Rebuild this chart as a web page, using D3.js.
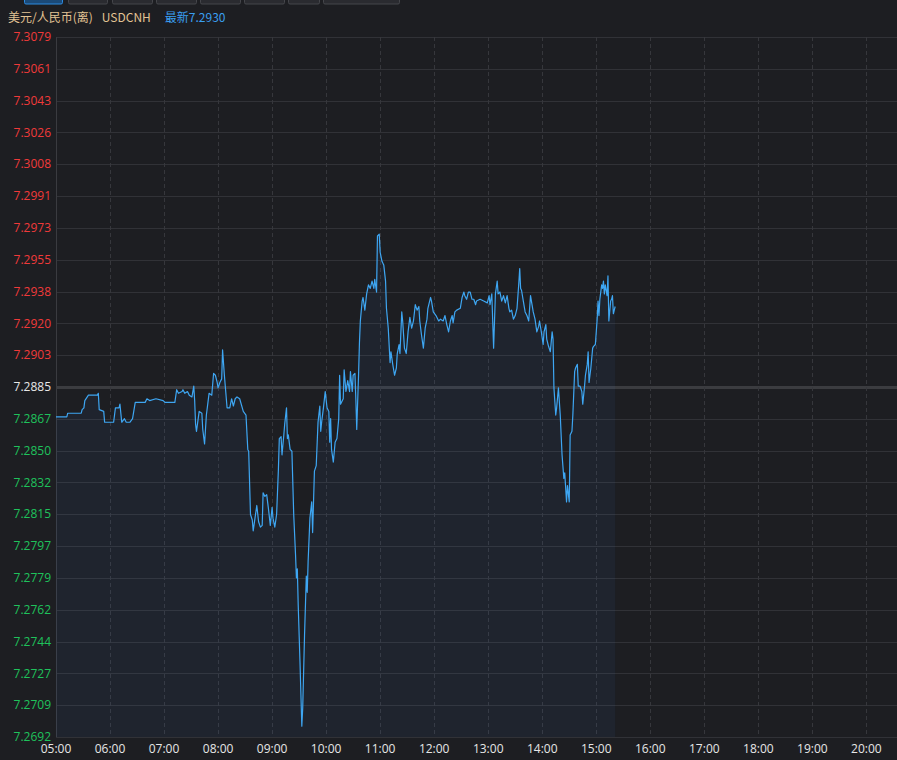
<!DOCTYPE html>
<html><head><meta charset="utf-8">
<script src="https://cdn.jsdelivr.net/npm/d3@7"></script>
<style>
html,body{margin:0;padding:0;background:#1d1e22;}
svg{display:block;}
</style></head>
<body>
<svg id="chart" width="897" height="760"></svg>
<script>
// ---- data ----
const symbolName = "美元/人民币(离)";
const symbolCode = "USDCNH";
const lastLabel = "最新7.2930";
const prevClose = 7.2885;
const yTickLabels = ["7.3079","7.3061","7.3043","7.3026","7.3008","7.2991","7.2973","7.2955","7.2938","7.2920","7.2903","7.2885","7.2867","7.2850","7.2832","7.2815","7.2797","7.2779","7.2762","7.2744","7.2727","7.2709","7.2692"];
const xTickLabels = ["05:00","06:00","07:00","08:00","09:00","10:00","11:00","12:00","13:00","14:00","15:00","16:00","17:00","18:00","19:00","20:00"];
// minutes after 05:00
const minutes = [0,12,13,23,24,28,29,31,32,36,46,47,48,53,54,64,66,70,71,73,76,78,82,85,88,99,101,104,111,119,121,132,134,136,140,141,143,146,148,151,153,154,155,156,159,162,163,165,167,170,173,175,177,179,180,182,184,185,187,190,193,195,197,199,201,204,208,211,213,214,216,218,219,221,223,225,227,229,230,232,234,236,238,240,241,243,245,247,248,250,251,253,254,256,257,258,260,262,264,266,267,268,269,271,273,274,276,278,279,280,282,284,285,287,289,291,293,294,295,297,299,301,303,304,305,306,308,310,312,314,315,316,319,320,322,324,326,327,329,330,332,333,334,336,337,338,340,341,343,345,347,349,351,353,354,356,357,359,360,362,364,366,367,369,371,372,374,376,378,379,381,382,384,385,387,389,391,393,395,397,399,401,403,404,406,408,410,412,413,416,417,419,422,425,427,430,432,434,436,438,440,441,443,445,449,451,453,454,456,458,460,462,464,466,467,471,475,479,481,482,484,486,488,490,491,493,495,497,499,501,503,504,506,508,510,512,514,515,516,517,519,521,523,525,527,528,530,532,534,536,537,539,541,542,544,545,547,549,551,552,553,555,556,558,560,562,564,565,567,568,570,571,573,574,576,577,579,580,582,584,585,587,588,590,591,592,594,596,597,599,601,602,603,604,606,607,608,609,610,612,613,614,616,617,618,619,620,621];
const prices = [7.2869,7.2869,7.2871,7.2871,7.2871,7.2871,7.2873,7.2874,7.2878,7.2881,7.2881,7.2882,7.2873,7.2872,7.2866,7.2866,7.2874,7.2874,7.2876,7.2866,7.2868,7.2866,7.2866,7.2868,7.2877,7.2877,7.2879,7.2878,7.2879,7.2878,7.2877,7.2877,7.2884,7.2882,7.2883,7.2884,7.2882,7.2883,7.2881,7.2880,7.2886,7.2878,7.2865,7.2861,7.2872,7.2871,7.2862,7.2854,7.2870,7.2882,7.2881,7.2893,7.2892,7.2888,7.2885,7.2888,7.2890,7.2906,7.2892,7.2874,7.2874,7.2879,7.2875,7.2879,7.2880,7.2879,7.2872,7.2870,7.2851,7.2850,7.2815,7.2812,7.2806,7.2813,7.2820,7.2811,7.2808,7.2809,7.2827,7.2825,7.2826,7.2818,7.2809,7.2819,7.2813,7.2808,7.2815,7.2840,7.2857,7.2858,7.2848,7.2859,7.2865,7.2874,7.2857,7.2859,7.2851,7.2850,7.2815,7.2793,7.2780,7.2785,7.2765,7.2733,7.2698,7.2708,7.2748,7.2781,7.2772,7.2789,7.2813,7.2822,7.2805,7.2839,7.2842,7.2866,7.2875,7.2861,7.2866,7.2874,7.2883,7.2874,7.2872,7.2855,7.2868,7.2851,7.2844,7.2855,7.2857,7.2868,7.2892,7.2876,7.2879,7.2895,7.2883,7.2889,7.2883,7.2894,7.2883,7.2892,7.2893,7.2879,7.2862,7.2892,7.2910,7.2922,7.2933,7.2935,7.2928,7.2937,7.2942,7.2940,7.2944,7.2940,7.2945,7.2938,7.2969,7.2970,7.2960,7.2955,7.2953,7.2944,7.2929,7.2918,7.2899,7.2905,7.2898,7.2892,7.2896,7.2904,7.2909,7.2904,7.2927,7.2922,7.2907,7.2904,7.2916,7.2924,7.2918,7.2922,7.2931,7.2928,7.2930,7.2922,7.2914,7.2907,7.2918,7.2923,7.2929,7.2935,7.2933,7.2927,7.2925,7.2922,7.2923,7.2922,7.2925,7.2920,7.2916,7.2922,7.2925,7.2921,7.2927,7.2928,7.2929,7.2935,7.2938,7.2936,7.2934,7.2938,7.2938,7.2934,7.2934,7.2931,7.2933,7.2934,7.2933,7.2932,7.2936,7.2931,7.2937,7.2907,7.2937,7.2944,7.2937,7.2938,7.2933,7.2936,7.2932,7.2936,7.2929,7.2927,7.2928,7.2923,7.2925,7.2929,7.2943,7.2951,7.2940,7.2939,7.2933,7.2927,7.2925,7.2922,7.2936,7.2933,7.2927,7.2923,7.2916,7.2919,7.2922,7.2916,7.2909,7.2916,7.2920,7.2912,7.2908,7.2905,7.2916,7.2912,7.2885,7.2870,7.2874,7.2885,7.2870,7.2848,7.2835,7.2838,7.2822,7.2831,7.2822,7.2859,7.2861,7.2870,7.2894,7.2896,7.2898,7.2886,7.2886,7.2883,7.2876,7.2886,7.2892,7.2898,7.2905,7.2888,7.2896,7.2907,7.2908,7.2909,7.2923,7.2933,7.2925,7.2934,7.2942,7.2940,7.2944,7.2937,7.2942,7.2936,7.2947,7.2922,7.2933,7.2934,7.2936,7.2926,7.2928,7.2930];

// ---- layout ----
const W = 897, H = 760;
const M = {left:56, top:37, right:897, bottom:737};
const svg = d3.select("#chart");
svg.append("rect").attr("width",W).attr("height",H).attr("fill","#1d1e22");

const parse = d3.timeParse("%H:%M");
const t0 = parse("05:00");
const x = d3.scaleTime()
  .domain([t0, d3.timeMinute.offset(t0, (M.right - M.left) / 54 * 60)])
  .range([M.left, M.right]);
const yMin = +yTickLabels[yTickLabels.length-1], yMax = +yTickLabels[0];
const y = d3.scaleLinear().domain([yMin, yMax]).range([M.bottom, M.top]);
const yBand = d3.scalePoint().domain(yTickLabels).range([M.top, M.bottom]);

const data = minutes.map((m,i)=>({t:d3.timeMinute.offset(t0,m), v:prices[i]}));

// top tab buttons
const tabs = [[24,62,true],[68,107],[112,152],[156,196],[200,240],[244,284],[288,319],[323,399]];
svg.selectAll("rect.tab").data(tabs).join("rect")
  .attr("x",d=>d[0]+0.5).attr("y",-6).attr("width",d=>d[1]-d[0]).attr("height",10)
  .attr("rx",1.5)
  .attr("fill",d=>d[2]?"#1b4a78":"#2a2b30")
  .attr("stroke",d=>d[2]?"#2d8be0":"#45464b").attr("stroke-width",1);

// header
const hdr = svg.append("text").attr("x",8).attr("y",22)
  .attr("font-family","'Noto Sans CJK SC','Noto Sans',sans-serif").attr("font-size",12);
hdr.append("tspan").attr("fill","#e2c394").text(symbolName);
hdr.append("tspan").attr("fill","#e2c394").attr("dx",9).text(symbolCode);
hdr.append("tspan").attr("fill","#3a9ff0").attr("dx",14).text(lastLabel);

// horizontal grid
const g = svg.append("g");
g.selectAll("line.h").data(yTickLabels).join("line")
  .attr("x1",M.left).attr("x2",M.right)
  .attr("y1",d=>Math.round(yBand(d))+0.5).attr("y2",d=>Math.round(yBand(d))+0.5)
  .attr("stroke",d=>+d===prevClose?"#3b3c40":"#313237")
  .attr("stroke-width",d=>+d===prevClose?3:1);

// vertical dashed grid
const hourTicks = xTickLabels.map(s=>parse(s));
g.selectAll("line.v").data(hourTicks.slice(1)).join("line")
  .attr("x1",d=>Math.round(x(d))+0.5).attr("x2",d=>Math.round(x(d))+0.5)
  .attr("y1",M.top).attr("y2",M.bottom)
  .attr("stroke","#36373c").attr("stroke-dasharray","4,3");

// left axis line
g.append("line").attr("x1",M.left+0.5).attr("x2",M.left+0.5).attr("y1",M.top).attr("y2",M.bottom)
  .attr("stroke","#3a3b40");

// area
const area = d3.area().x(d=>x(d.t)).y0(M.bottom).y1(d=>y(d.v));
svg.append("path").datum(data).attr("d",area).attr("fill","rgba(60,120,190,0.08)");
// line
const line = d3.line().x(d=>x(d.t)).y(d=>y(d.v));
svg.append("path").datum(data).attr("d",line).attr("fill","none")
  .attr("stroke","#3ea6f2").attr("stroke-width",1.2).attr("stroke-linejoin","round");

// y labels
svg.append("g").selectAll("text").data(yTickLabels).join("text")
  .attr("x",51).attr("y",d=>yBand(d)).attr("dy","0.35em")
  .attr("text-anchor","end")
  .attr("font-family","'Open Sans','Noto Sans',sans-serif").attr("font-size",12)
  .attr("fill",d=>+d>prevClose?"#f03a3a":(+d===prevClose?"#e8e8e8":"#1fc25c"))
  .text(d=>d);

// x labels
svg.append("g").selectAll("text").data(xTickLabels).join("text")
  .attr("x",d=>x(parse(d))).attr("y",749).attr("dy","0.35em")
  .attr("text-anchor","middle")
  .attr("font-family","'Open Sans','Noto Sans',sans-serif").attr("font-size",12)
  .attr("fill","#e6e6e6").text(d=>d);
</script>
</body></html>
